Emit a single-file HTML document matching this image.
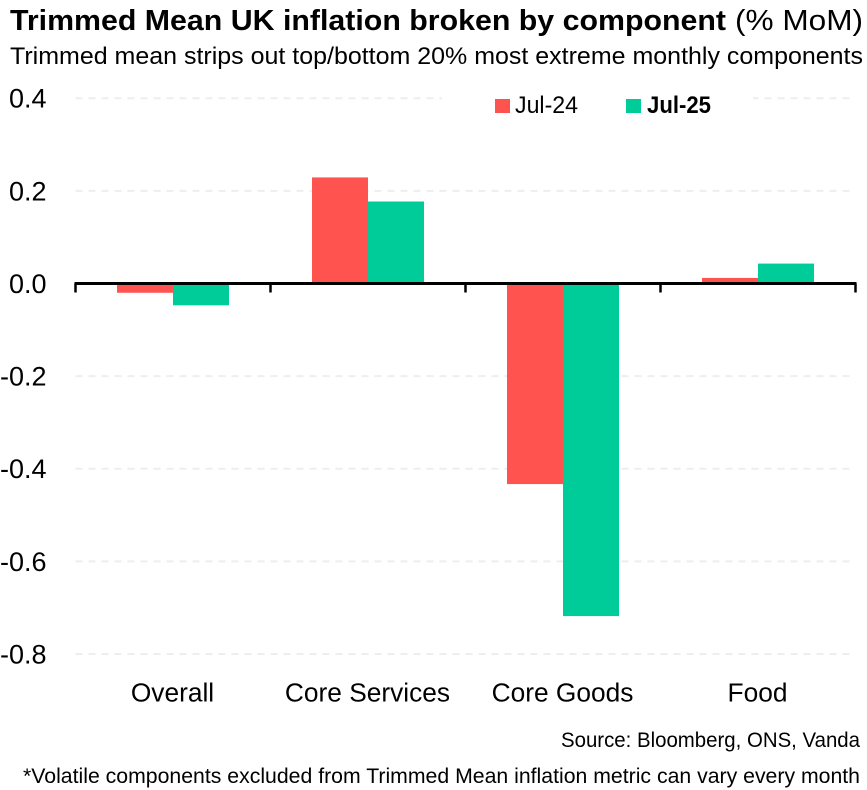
<!DOCTYPE html>
<html lang="en">
<head>
<meta charset="utf-8">
<title>Trimmed Mean UK inflation broken by component</title>
<style>
html,body{margin:0;padding:0;background:#fff;width:867px;height:790px;overflow:hidden}
svg{display:block}
text{font-family:"Liberation Sans",sans-serif;fill:#000}
</style>
</head>
<body>
<svg id="chart" xmlns="http://www.w3.org/2000/svg" width="867" height="790" viewBox="0 0 867 790">
  <rect x="0" y="0" width="867" height="790" fill="#ffffff"/>
  <text x="10" y="30" font-size="29" font-weight="bold" textLength="716" lengthAdjust="spacingAndGlyphs">Trimmed Mean UK inflation broken by component</text>
  <text x="735" y="30" font-size="29" textLength="128" lengthAdjust="spacingAndGlyphs">(% MoM)</text>
  <text x="10" y="64" font-size="24" textLength="853" lengthAdjust="spacingAndGlyphs">Trimmed mean strips out top/bottom 20% most extreme monthly components</text>
  <g id="grid"></g>
  <g id="bars"></g>
  <g id="axis"></g>
  <g id="ylabels"></g>
  <g id="xlabels"></g>
  <g>
    <rect x="442" y="90" width="311" height="30" fill="#ffffff"/>
    <rect x="495" y="99" width="15" height="14" fill="#ff5350"/>
    <text x="515" y="113" font-size="24" textLength="63" lengthAdjust="spacingAndGlyphs">Jul-24</text>
    <rect x="626" y="99" width="15" height="14" fill="#00cc99"/>
    <text x="647" y="113" font-size="24" font-weight="bold" textLength="64" lengthAdjust="spacingAndGlyphs">Jul-25</text>
  </g>
  <text x="561" y="747" font-size="21" textLength="299" lengthAdjust="spacingAndGlyphs">Source: Bloomberg, ONS, Vanda</text>
  <text x="23" y="783" font-size="21" textLength="837" lengthAdjust="spacingAndGlyphs">*Volatile components excluded from Trimmed Mean inflation metric can vary every month</text>
</svg>
<script>
var categories = ["Overall", "Core Services", "Core Goods", "Food"];
var jul24Values = [-0.02, 0.229, -0.433, 0.012];
var jul25Values = [-0.047, 0.177, -0.718, 0.043];
var yTicks = [0.4, 0.2, 0.0, -0.2, -0.4, -0.6, -0.8];

var NS = "http://www.w3.org/2000/svg";
var plotLeft = 75.5, plotRight = 855.5;
var zeroY = 283.5, pxPerUnit = 463.2;
var barWidth = 56;

function yScale(v) { return zeroY - v * pxPerUnit; }
function catWidth() { return (plotRight - plotLeft) / categories.length; }
function xCenter(i) { return plotLeft + catWidth() * (i + 0.5); }
function make(tag, attrs, parent) {
  var el = document.createElementNS(NS, tag);
  for (var k in attrs) el.setAttribute(k, attrs[k]);
  parent.appendChild(el);
  return el;
}

var gridG = document.getElementById("grid");
var barsG = document.getElementById("bars");
var axisG = document.getElementById("axis");
var yG = document.getElementById("ylabels");
var xG = document.getElementById("xlabels");

yTicks.forEach(function (t) {
  var y = yScale(t);
  var label = make("text", { x: 46.5, y: y + 9.4, "font-size": 27, "text-anchor": "end" }, yG);
  
  
  label.textContent = t.toFixed(1);
  if (t === 0) return;
  var line = make("line", { x1: plotLeft, x2: plotRight, y1: y, y2: y, stroke: "#eeeeee", "stroke-width": 2, "stroke-dasharray": "7 6" }, gridG);
  
  
});

function drawBar(value, x, fill, name) {
  var y0 = yScale(0), y1 = yScale(value);
  var bar = make("rect", { x: x, y: Math.min(y0, y1), width: barWidth, height: Math.abs(y1 - y0), fill: fill }, barsG);
  
  
}

categories.forEach(function (c, i) {
  var cx = xCenter(i);
  drawBar(jul24Values[i], cx - barWidth, "#ff5350", "bar-jul-24");
  drawBar(jul25Values[i], cx, "#00cc99", "bar-jul-25");
  var label = make("text", { x: cx - 0.5, y: 701.5, "font-size": 26.3, "text-anchor": "middle" }, xG);
  
  
  label.textContent = c;
});

var axisLine = make("line", { x1: plotLeft - 1, x2: plotRight + 1, y1: zeroY, y2: zeroY, stroke: "#000", "stroke-width": 3 }, axisG);


for (var i = 0; i <= categories.length; i++) {
  var tx = plotLeft + catWidth() * i;
  var tick = make("line", { x1: tx, x2: tx, y1: zeroY, y2: 292.5, stroke: "#000", "stroke-width": 2.5 }, axisG);
  
  
}
</script>
</body>
</html>
